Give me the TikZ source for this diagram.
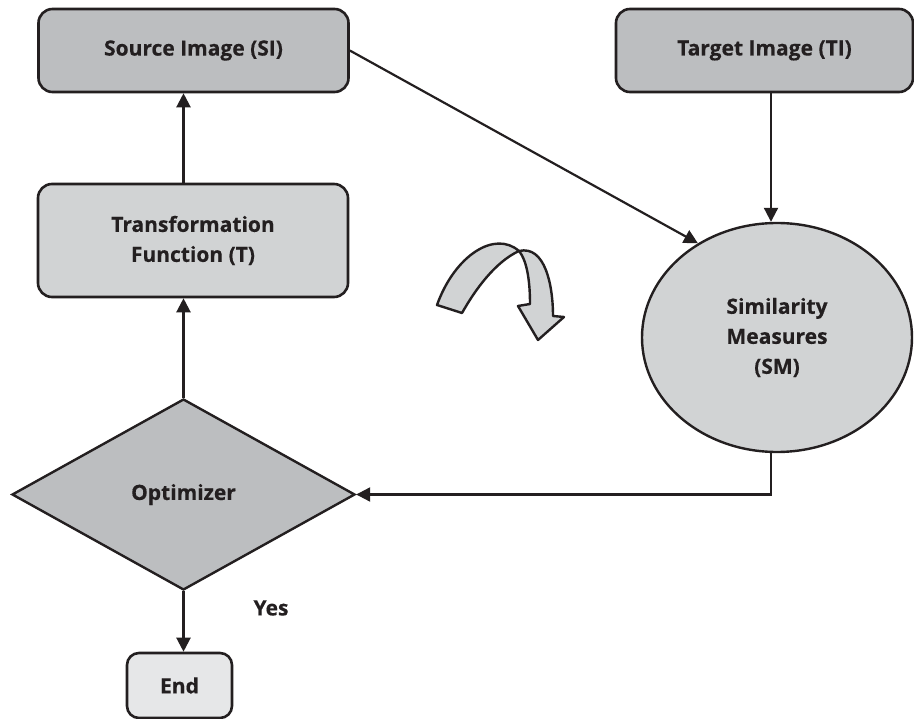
\documentclass[tikz,border=0pt]{standalone}
\usepackage{fontspec}
\setmainfont{Open Sans}[BoldFeatures={FakeBold=0.4}]
\usetikzlibrary{shapes.geometric,arrows.meta}
\definecolor{darkfill}{HTML}{BCBEC0}
\definecolor{midfill}{HTML}{D1D3D4}
\definecolor{lightfill}{HTML}{E6E7E8}
\definecolor{edge}{HTML}{231F20}
\begin{document}
\begin{tikzpicture}[x=1pt,y=-1pt,
  lbl/.style={font=\fontsize{21}{30}\selectfont\bfseries, text=edge, align=center},
  box/.style={lbl, draw=edge, line width=2.6pt, rounded corners=14pt, inner sep=0pt},
  conn/.style={draw=edge, line width=2.2pt, -{Triangle[length=14pt,width=14pt]}},
  ribbon/.style={draw=edge, line width=2.4pt, fill=midfill, line join=round}]
\useasboundingbox (0,0) rectangle (914,719);
\node[box, fill=darkfill, minimum width=310pt, minimum height=83pt] (si) at (193.5,50.5) {Source Image (SI)};
\node[box, fill=darkfill, minimum width=297pt, minimum height=83pt] (ti) at (764.5,50.5) {Target Image (TI)};
\node[box, fill=midfill, minimum width=310pt, minimum height=113pt] (tf) at (193,240.5) {Transformation\\Function (T)};
\node[lbl, ellipse, draw=edge, fill=midfill, line width=2.4pt, inner sep=0pt, minimum width=270pt, minimum height=229pt] (sm) at (777,337.5) {Similarity\\Measures\\(SM)};
\node[lbl, diamond, draw=edge, fill=darkfill, line width=2.4pt, inner sep=0pt, aspect=1.8, minimum width=343pt, minimum height=191pt] (opt) at (183.5,494.5) {Optimizer};
\node[box, fill=lightfill, rounded corners=12pt, minimum width=105pt, minimum height=65pt] (end) at (179.5,685.5) {End};
\node[lbl] (yes) at (271,608) {Yes};
\coordinate (sx) at (771,0);
\draw[conn] (tf.north -| opt.north) -- (si.south -| opt.north);
\draw[conn] (opt.north) -- (tf.south -| opt.north);
\draw[conn] (opt.south) -- (end.north -| opt.south);
\draw[conn] (si.east) -- (sm.130);
\draw[conn] (ti.south -| sx) -- (sm.north -| sx);
\draw[conn] (sm.south -| sx) |- (opt.east);
\draw[ribbon] (437,305) .. controls (455,255) and (495,230) .. (519,251) .. controls (495,262) and (475,290) .. (462,313) -- cycle;
\draw[ribbon] (519,251) .. controls (545,245) and (553,285) .. (553,316) -- (564,317) -- (538,340) -- (518,306) -- (530,304) .. controls (530,285) and (528,262) .. (519,251) -- cycle;
\end{tikzpicture}
\end{document}
